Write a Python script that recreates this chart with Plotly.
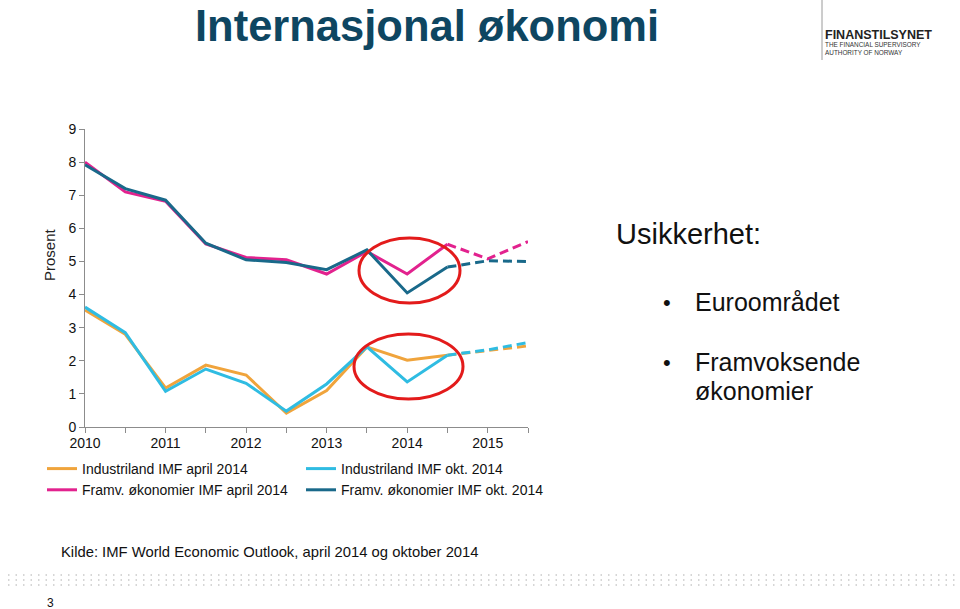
import plotly.graph_objects as go

# ---------------- data ----------------
periods = [2010, 2010.5, 2011, 2011.5, 2012, 2012.5, 2013, 2013.5, 2014, 2014.5, 2015, 2015.5]
ind_april = [3.53, 2.80, 1.18, 1.87, 1.57, 0.42, 1.10, 2.42, 2.02, 2.17, 2.30, 2.45]
ind_okt   = [3.62, 2.85, 1.08, 1.75, 1.32, 0.48, 1.30, 2.42, 1.36, 2.17, 2.33, 2.55]
em_april  = [8.00, 7.10, 6.82, 5.53, 5.12, 5.05, 4.62, 5.30, 4.62, 5.52, 5.08, 5.60]
em_okt    = [7.92, 7.20, 6.85, 5.55, 5.05, 4.97, 4.75, 5.35, 4.05, 4.83, 5.02, 5.00]
split = 9  # forecasts (dashed) from 2014.5

series = [
    ("Industriland IMF april 2014", ind_april, "#F0A43C", "legend"),
    ("Industriland IMF okt. 2014", ind_okt, "#2FBCE2", "legend2"),
    ("Framv. økonomier IMF april 2014", em_april, "#E2228E", "legend"),
    ("Framv. økonomier IMF okt. 2014", em_okt, "#19698A", "legend2"),
]

year_ticks = [2010, 2010.5, 2011, 2011.5, 2012, 2012.5, 2013, 2013.5, 2014, 2014.5, 2015, 2015.5]
year_labels = ["2010", "", "2011", "", "2012", "", "2013", "", "2014", "", "2015", ""]

W, H = 960, 609
L, R, T, B = 85, 528, 129, 427
FONT = "Arial, Liberation Sans, sans-serif"

def px(x):
    return (x - L) / (R - L)

def py(y):
    return (B - y) / (B - T)

fig = go.Figure()
for name, vals, color, lg in series:
    fig.add_trace(go.Scatter(
        x=periods[:split + 1], y=vals[:split + 1], mode="lines", name=name,
        line=dict(color=color, width=3), legend=lg))
    fig.add_trace(go.Scatter(
        x=periods[split:], y=vals[split:], mode="lines", name=name, showlegend=False,
        line=dict(color=color, width=3, dash="9px,5px"), legend=lg))

shapes = []
# red ellipses
for (x0, x1, y0, y1) in [(359, 460, 238, 303), (354, 463, 334, 399)]:
    shapes.append(dict(type="circle", xref="paper", yref="paper",
                       x0=px(x0), x1=px(x1), y0=py(y1), y1=py(y0),
                       line=dict(color="#E31B1B", width=3)))
# logo divider
shapes.append(dict(type="line", xref="paper", yref="paper",
                   x0=px(822), x1=px(822), y0=py(0), y1=py(60),
                   line=dict(color="#9a9a9a", width=1)))
# dotted footer rows
for yy in [575, 580, 585]:
    shapes.append(dict(type="line", xref="paper", yref="paper",
                       x0=px(8), x1=px(958), y0=py(yy), y1=py(yy),
                       line=dict(color="#c9c9c9", width=1.5, dash="1.5px,6px")))

ann = []
def text(t, x, y, size, color="#000", bold=False, xanchor="left", yanchor="middle", angle=0):
    ann.append(dict(text=("<b>%s</b>" % t) if bold else t, x=px(x), y=py(y),
                    xref="paper", yref="paper", showarrow=False,
                    xanchor=xanchor, yanchor=yanchor, textangle=angle,
                    font=dict(family=FONT, size=size, color=color)))

text("Internasjonal økonomi", 193, 26, 43.5, "#0E4661", bold=True)
text("FINANSTILSYNET", 823, 35, 12.5, "#222", bold=True)
text("THE FINANCIAL SUPERVISORY", 823, 45, 6.4, "#333")
text("AUTHORITY OF NORWAY", 823, 52, 6.4, "#333")
text("Usikkerhet:", 614, 234, 29, "#111")
text("•", 661, 302, 22, "#111")
text("Euroområdet", 693, 302, 25, "#111")
text("•", 661, 362, 22, "#111")
text("Framvoksende", 693, 362, 25, "#111")
text("økonomier", 693, 391, 25, "#111")
text("Kilde: IMF World Economic Outlook, april 2014 og oktober 2014", 59, 552, 14.8, "#111")
text("3", 45, 603, 12, "#111")
text("Prosent", 49, 255, 15, "#222", xanchor="center", angle=-90)

fig.update_layout(
    width=W, height=H,
    margin=dict(l=L, r=W - R, t=T, b=H - B),
    paper_bgcolor="white", plot_bgcolor="white",
    font=dict(family=FONT, color="#222"),
    showlegend=True,
    legend=dict(x=px(42), y=py(453), xanchor="left", yanchor="top",
                orientation="v", font=dict(family=FONT, size=14, color="#111"),
                itemwidth=30, tracegroupgap=0, bgcolor="rgba(0,0,0,0)"),
    legend2=dict(x=px(301), y=py(453), xanchor="left", yanchor="top",
                 orientation="v", font=dict(family=FONT, size=14, color="#111"),
                 itemwidth=30, tracegroupgap=0, bgcolor="rgba(0,0,0,0)"),
    shapes=shapes, annotations=ann,
    xaxis=dict(range=[2010, 2015.5], tickvals=year_ticks, ticktext=year_labels,
               showgrid=False, zeroline=False, showline=True, linecolor="#8c8c8c",
               linewidth=1, ticks="outside", ticklen=5, tickcolor="#8c8c8c",
               ticklabelstandoff=-2,
               tickfont=dict(family=FONT, size=14, color="#111")),
    yaxis=dict(range=[0, 9], dtick=1, showgrid=False, zeroline=False, showline=True,
               linecolor="#8c8c8c", linewidth=1, ticks="outside", ticklen=5,
               tickcolor="#8c8c8c", tickfont=dict(family=FONT, size=14, color="#111")),
)

fig.write_html("out.html")
